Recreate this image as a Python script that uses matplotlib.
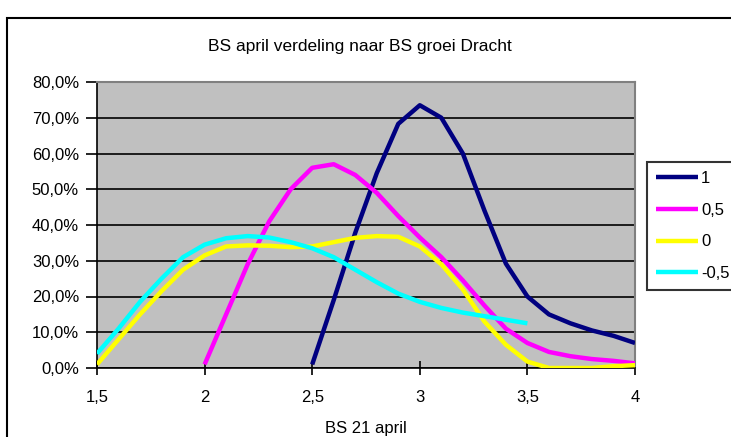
import matplotlib
matplotlib.use("Agg")
import matplotlib.pyplot as plt
from matplotlib.ticker import FuncFormatter
from matplotlib.patches import Rectangle

plt.rcParams['font.family'] = ['Liberation Sans', 'DejaVu Sans']

# Data (percentages)
x_1 = [2.5, 2.6, 2.7, 2.8, 2.9, 3.0, 3.1, 3.2, 3.3, 3.4, 3.5, 3.6, 3.7, 3.8, 3.9, 4.0]
y_1 = [1.0, 19.0, 37.8, 54.5, 68.3, 73.5, 70.0, 60.0, 44.1, 29.2, 20.0, 15.0, 12.5, 10.5, 9.0, 7.0]

x_05 = [2.0, 2.1, 2.2, 2.3, 2.4, 2.5, 2.6, 2.7, 2.8, 2.9, 3.0, 3.1, 3.2, 3.3, 3.4, 3.5, 3.6, 3.7, 3.8, 3.9, 4.0]
y_05 = [1.0, 15.0, 29.0, 41.0, 50.0, 56.0, 57.0, 54.0, 49.0, 42.5, 36.5, 31.0, 24.5, 17.5, 11.0, 7.0, 4.5, 3.3, 2.5, 2.0, 1.3]

x_0 = [1.5, 1.6, 1.7, 1.8, 1.9, 2.0, 2.1, 2.2, 2.3, 2.4, 2.5, 2.6, 2.7, 2.8, 2.9, 3.0, 3.1, 3.2, 3.3, 3.4, 3.5, 3.6, 3.7, 3.8, 3.9, 4.0]
y_0 = [1.0, 8.0, 15.0, 21.5, 27.5, 31.5, 34.0, 34.3, 34.2, 33.8, 34.0, 35.2, 36.4, 36.9, 36.7, 34.0, 29.0, 22.0, 13.0, 6.5, 1.8, 0.0, 0.0, 0.0, 0.5, 0.8]

x_m05 = [1.5, 1.6, 1.7, 1.8, 1.9, 2.0, 2.1, 2.2, 2.3, 2.4, 2.5, 2.6, 2.7, 2.8, 2.9, 3.0, 3.1, 3.2, 3.3, 3.4, 3.5]
y_m05 = [4.0, 11.0, 18.5, 25.0, 31.0, 34.5, 36.3, 36.9, 36.5, 35.2, 33.5, 31.0, 27.5, 24.0, 20.8, 18.5, 16.8, 15.5, 14.5, 13.5, 12.5]

series_labels = ['1', '0,5', '0', '-0,5']
colors = ['#000080', '#FF00FF', '#FFFF00', '#00FFFF']

xticks = [1.5, 2, 2.5, 3, 3.5, 4]
xtick_labels = ['1,5', '2', '2,5', '3', '3,5', '4']
yticks = [0, 10, 20, 30, 40, 50, 60, 70, 80]

W, H = 731, 437
fig = plt.figure(figsize=(W / 100, H / 100), dpi=100)

# outer chart border (extends beyond right/bottom edges)
fig.patches.append(Rectangle((7 / W, -0.1), 2.0, (H - 18) / H + 0.1,
                             transform=fig.transFigure, fill=False,
                             edgecolor='black', linewidth=1.5))

ax = fig.add_axes([97 / W, 1 - 368 / H, (635 - 97) / W, (368 - 82) / H])
ax.set_facecolor('#C0C0C0')

for xs, ys, c, lab in zip([x_1, x_05, x_0, x_m05], [y_1, y_05, y_0, y_m05], colors, series_labels):
    ax.plot(xs, ys, color=c, linewidth=3.2, label=lab, solid_capstyle='butt',
            solid_joinstyle='round', zorder=3)

ax.set_xlim(1.5, 4)
ax.set_ylim(0, 80)
ax.set_xticks(xticks)
ax.set_xticklabels(xtick_labels)
ax.set_yticks(yticks)
ax.yaxis.set_major_formatter(FuncFormatter(lambda v, p: f"{v:.1f}%".replace('.', ',')))
ax.grid(axis='y', color='black', linewidth=1.2, zorder=1)
ax.set_axisbelow(True)

for s in ['top', 'right']:
    ax.spines[s].set_color('#808080')
    ax.spines[s].set_linewidth(1.5)
for s in ['left', 'bottom']:
    ax.spines[s].set_color('black')
    ax.spines[s].set_linewidth(1.2)

ax.tick_params(axis='x', direction='inout', length=10, width=1.2, labelsize=12, pad=11)
ax.tick_params(axis='y', direction='out', length=8, width=1.2, labelsize=12, pad=5)

ax.set_xlabel('BS 21 april', fontsize=12, labelpad=11)
fig.text(360 / W, 1 - 47 / H, 'BS april verdeling naar BS groei Dracht',
         ha='center', va='center', fontsize=12.5)

leg = fig.legend(loc='upper left', bbox_to_anchor=(647 / W, 1 - 162 / H),
                 fontsize=12, frameon=True, fancybox=False, edgecolor='black',
                 borderpad=0.55, handlelength=2.5, handletextpad=0.2, labelspacing=1.0,
                 borderaxespad=0)
leg.get_frame().set_linewidth(1.5)

fig.savefig('out.png', dpi=100)
